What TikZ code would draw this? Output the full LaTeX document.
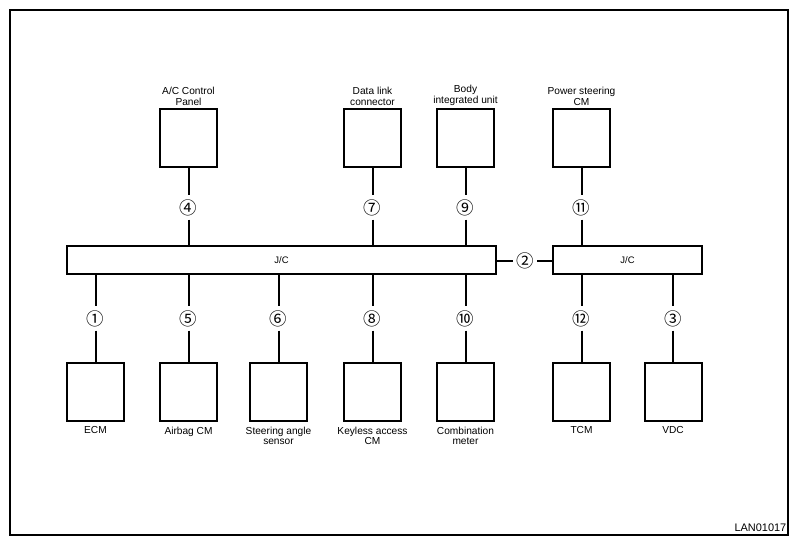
\documentclass[tikz,border=0pt]{standalone}
\usepackage{fontspec}
\setmainfont{Liberation Sans}
\newfontfamily\cjknum{Noto Sans CJK JP}
\begin{document}
\begin{tikzpicture}[x=1bp,y=-1bp,
  ecu/.style={draw,line width=2bp,minimum width=57bp,minimum height=58bp,inner sep=0pt},
  bus/.style={draw,line width=2bp,minimum height=28bp,inner sep=0pt,font=\fontsize{9.5}{10}\selectfont},
  num/.style={circle,inner sep=0pt,minimum size=22.5bp,font=\cjknum\fontsize{17.5}{17.5}\selectfont},
  lab/.style={inner sep=0pt,align=center,font=\fontsize{10.2}{10.6}\selectfont},
  wire/.style={line width=2bp}]
\useasboundingbox (0,0) rectangle (798,546);
\draw[line width=1.3bp] (10,10) rectangle (788,535);
% buses
\node[bus,minimum width=429bp] (jc1) at (281.5,260.5) {J/C};
\node[bus,minimum width=149bp] (jc2) at (627.5,260.5) {J/C};
% top units
\node[ecu] (ac) at (188.5,138) {};
\node[ecu] (dlc) at (372.5,138) {};
\node[ecu] (biu) at (465.5,138) {};
\node[ecu] (ps) at (581.5,138) {};
\node[lab,anchor=south] (lac) at (ac.north |- 0,105.5) {A/C Control\\Panel};
\node[lab,anchor=south] (ldlc) at (dlc.north |- 0,105.5) {Data link\\connector};
\node[lab,anchor=south] (lbiu) at (biu.north |- 0,105.5) {Body\\integrated unit};
\node[lab,anchor=south] (lps) at (ps.north |- 0,105.5) {Power steering\\CM};
% bottom units
\node[ecu] (ecm) at (95.5,392) {};
\node[ecu] (abg) at (188.5,392) {};
\node[ecu] (sas) at (278.5,392) {};
\node[ecu] (kls) at (372.5,392) {};
\node[ecu] (cmb) at (465.5,392) {};
\node[ecu] (tcm) at (581.5,392) {};
\node[ecu] (vdc) at (673,392) {};
\node[lab,anchor=north] (lecm) at (ecm.south |- 0,426.5) {ECM};
\node[lab,anchor=north] (labg) at (abg.south |- 0,426.5) {Airbag CM};
\node[lab,anchor=north] (lsas) at (sas.south |- 0,426.5) {Steering angle\\sensor};
\node[lab,anchor=north] (lkls) at (kls.south |- 0,426.5) {Keyless access\\CM};
\node[lab,anchor=north] (lcmb) at (cmb.south |- 0,426.5) {Combination\\meter};
\node[lab,anchor=north] (ltcm) at (tcm.south |- 0,426.5) {TCM};
\node[lab,anchor=north] (lvdc) at (vdc.south |- 0,426.5) {VDC};
% circled numbers, top
\node[num] (n4) at (ac |- 0,207.5) {④};
\node[num] (n7) at (dlc |- 0,207.5) {⑦};
\node[num] (n9) at (biu |- 0,207.5) {⑨};
\node[num] (n11) at (ps |- 0,207.5) {⑪};
% circled numbers, bottom
\node[num] (n1) at (ecm |- 0,318.5) {①};
\node[num] (n5) at (abg |- 0,318.5) {⑤};
\node[num] (n6) at (sas |- 0,318.5) {⑥};
\node[num] (n8) at (kls |- 0,318.5) {⑧};
\node[num] (n10) at (cmb |- 0,318.5) {⑩};
\node[num] (n12) at (tcm |- 0,318.5) {⑫};
\node[num] (n3) at (vdc |- 0,318.5) {③};
\node[num] (n2) at (525,261) {②};
% wires
\foreach \u/\n in {ac/n4,dlc/n7,biu/n9}{
  \draw[wire] (\u.south) -- (\n.north);
  \draw[wire] (\n.south) -- (\n |- jc1.north);
}
\draw[wire] (ps.south) -- (n11.north);
\draw[wire] (n11.south) -- (n11 |- jc2.north);
\foreach \u/\n in {ecm/n1,abg/n5,sas/n6,kls/n8,cmb/n10}{
  \draw[wire] (\n |- jc1.south) -- (\n.north);
  \draw[wire] (\n.south) -- (\u.north);
}
\foreach \u/\n in {tcm/n12,vdc/n3}{
  \draw[wire] (\n |- jc2.south) -- (\n.north);
  \draw[wire] (\n.south) -- (\u.north);
}
\draw[wire] (jc1.east |- n2) -- (n2.west);
\draw[wire] (n2.east) -- (jc2.west |- n2);
\node[inner sep=0pt,anchor=south east,font=\fontsize{11}{12}\selectfont] (code) at (786.5,532) {LAN01017};
\end{tikzpicture}
\end{document}
